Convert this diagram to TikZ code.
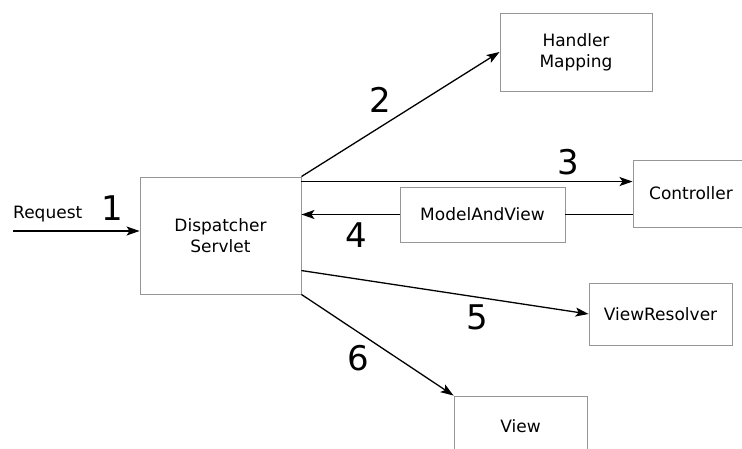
\documentclass[tikz,border=0pt]{standalone}
\usepackage{fontspec}
\setmainfont{DejaVu Sans}
\usetikzlibrary{arrows.meta,calc}
\definecolor{boxline}{RGB}{150,150,150}
\tikzset{
  box/.style={draw=boxline, line width=0.9pt, fill=white, align=center,
              font=\fontsize{17}{21}\selectfont, inner sep=0pt},
  num/.style={font=\fontsize{34}{34}\selectfont, inner sep=0pt},
  lbl/.style={font=\fontsize{17}{21}\selectfont, inner sep=0pt},
  arr/.style={line width=1.3pt, -{Stealth[length=13pt,width=9pt,inset=3pt]}},
  ln/.style={line width=1.3pt},
}
\begin{document}
\begin{tikzpicture}[x=1pt,y=-1pt]
\clip (0,0) rectangle (742,449);
\fill[white] (0,0) rectangle (742,449);

% boxes
\node[box, minimum width=161pt, minimum height=117pt] (ds) at (220.5,235.5) {Dispatcher\\Servlet};
\node[box, minimum width=152pt, minimum height=78pt] (hm) at (576,52) {Handler\\Mapping};
\node[box, minimum width=116pt, minimum height=67pt] (ctrl) at (691,193.5) {Controller};
\node[box, minimum width=165pt, minimum height=55pt] (mv) at (482.5,214.5) {ModelAndView};
\node[box, minimum width=143pt, minimum height=62pt] (vr) at (660.5,314) {ViewResolver};
\node[box, minimum width=133pt, minimum height=60pt] (view) at (520.5,426) {View};

% incoming request
\coordinate (req) at (13,231);
\draw[arr] (req) -- (req -| ds.west);
\node[lbl, anchor=base west] (reqlbl) at (13,219) {Request};

% 2: to handler mapping
\draw[arr] (ds.north east) -- (hm.west);
% 3: to controller
\coordinate (s3) at ($(ds.north east)+(0,5)$);
\draw[arr] (s3) -- (s3 -| ctrl.west);
% 4: model and view back
\coordinate (s4) at (mv.east);
\draw[ln] (s4 -| ctrl.west) -- (mv.east);
\draw[arr] (mv.west) -- (mv.west -| ds.east);
% 5: to view resolver
\coordinate (s5) at ($(ds.north east)+(0,94)$);
\draw[arr] (s5) -- (vr.west);
% 6: to view
\draw[arr] (ds.south east) -- (view.north west);

% step numbers
\node[num] (n1) at (112,208) {1};
\node[num] (n2) at (380,100) {2};
\node[num] (n3) at (568,162) {3};
\node[num] (n4) at (356,235) {4};
\node[num] (n5) at (477,317) {5};
\node[num] (n6) at (358,358) {6};
\end{tikzpicture}
\end{document}
